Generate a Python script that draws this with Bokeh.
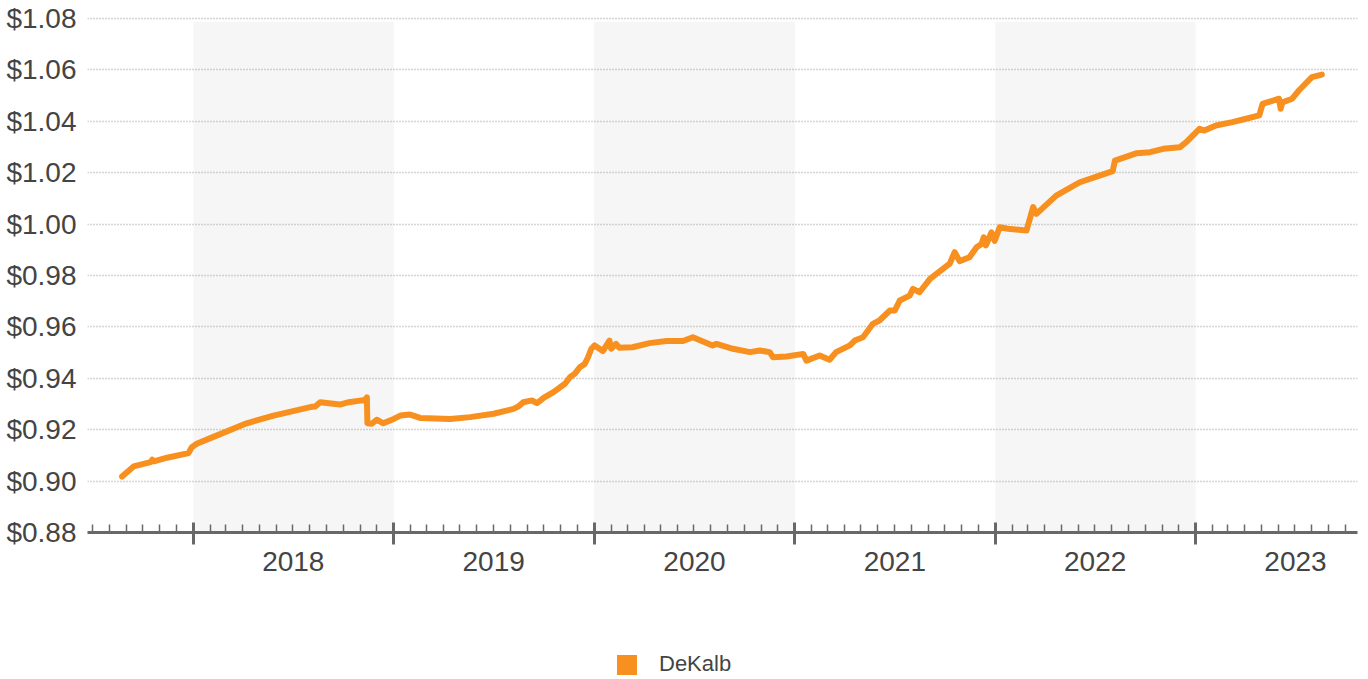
import pandas as pd
from bokeh.plotting import figure
from bokeh.layouts import column
from bokeh.models import (Range1d, FixedTicker, DatetimeAxis, CustomJSTickFormatter,
                          NumeralTickFormatter, Legend, LegendItem, ColumnDataSource)
from bokeh.embed import file_html
from bokeh.resources import INLINE

# ---- data ----
dates = [
    "2017-08-24", "2017-09-14", "2017-10-15", "2017-10-18", "2017-10-21", "2017-11-14",
    "2017-12-23", "2017-12-29", "2018-01-07", "2018-02-12", "2018-04-08", "2018-05-27",
    "2018-08-02", "2018-08-11", "2018-08-20", "2018-09-25", "2018-10-11", "2018-11-10",
    "2018-11-13", "2018-11-14", "2018-11-22", "2018-12-01", "2018-12-13", "2019-01-01",
    "2019-01-13", "2019-01-31", "2019-02-18", "2019-04-14", "2019-05-20", "2019-07-02",
    "2019-08-07", "2019-08-16", "2019-08-25", "2019-09-10", "2019-09-19", "2019-10-01",
    "2019-10-19", "2019-11-09", "2019-11-18", "2019-11-27", "2019-12-06", "2019-12-15",
    "2019-12-21", "2019-12-27", "2020-01-02", "2020-01-17", "2020-01-29", "2020-02-01",
    "2020-02-10", "2020-02-16", "2020-03-11", "2020-04-11", "2020-05-12", "2020-06-11",
    "2020-06-29", "2020-08-04", "2020-08-11", "2020-09-10", "2020-10-11", "2020-10-29",
    "2020-11-16", "2020-11-22", "2020-12-17", "2021-01-16", "2021-01-22", "2021-02-15",
    "2021-03-05", "2021-03-17", "2021-04-11", "2021-04-20", "2021-05-05", "2021-05-14",
    "2021-05-23", "2021-06-04", "2021-06-23", "2021-07-02", "2021-07-11", "2021-07-29",
    "2021-08-04", "2021-08-16", "2021-09-04", "2021-10-10", "2021-10-19", "2021-10-28",
    "2021-11-15", "2021-11-28", "2021-12-07", "2021-12-11", "2021-12-15", "2021-12-25",
    "2021-12-31", "2022-01-09", "2022-01-24", "2022-02-27", "2022-03-11", "2022-03-17",
    "2022-04-22", "2022-06-04", "2022-07-10", "2022-08-03", "2022-08-07", "2022-09-16",
    "2022-10-10", "2022-11-03", "2022-12-03", "2022-12-15", "2023-01-08", "2023-01-17",
    "2023-02-07", "2023-03-09", "2023-04-03", "2023-04-27", "2023-05-03", "2023-06-02",
    "2023-06-05", "2023-06-08", "2023-06-26", "2023-07-08", "2023-08-01", "2023-08-19",
]
values = [
    0.9018, 0.9057, 0.9074, 0.9083, 0.9077, 0.9091,
    0.9109, 0.9132, 0.9145, 0.9177, 0.9225, 0.9255,
    0.9288, 0.9290, 0.9307, 0.9298, 0.9307, 0.9316,
    0.9326, 0.9225, 0.9223, 0.9239, 0.9225, 0.9242,
    0.9255, 0.9259, 0.9246, 0.9242, 0.9249, 0.9262,
    0.9281, 0.9290, 0.9307, 0.9314, 0.9303, 0.9324,
    0.9346, 0.9379, 0.9404, 0.9418, 0.9443, 0.9456,
    0.9482, 0.9515, 0.9528, 0.9506, 0.9547, 0.9515,
    0.9534, 0.9519, 0.9521, 0.9537, 0.9545, 0.9545,
    0.9560, 0.9528, 0.9534, 0.9515, 0.9502, 0.9508,
    0.9502, 0.9482, 0.9485, 0.9495, 0.9469, 0.9489,
    0.9472, 0.9502, 0.9528, 0.9547, 0.9560, 0.9586,
    0.9612, 0.9625, 0.9664, 0.9664, 0.9703, 0.9722,
    0.9748, 0.9735, 0.9787, 0.9846, 0.9891, 0.9856,
    0.9871, 0.9910, 0.9923, 0.9949, 0.9917, 0.9968,
    0.9935, 0.9988, 0.9982, 0.9975, 1.0066, 1.0040,
    1.0111, 1.0163, 1.0189, 1.0206, 1.0247, 1.0276,
    1.0280, 1.0293, 1.0299, 1.0319, 1.0371, 1.0364,
    1.0384, 1.0397, 1.0410, 1.0423, 1.0468, 1.0488,
    1.0449, 1.0474, 1.0488, 1.0520, 1.0572, 1.0582,
]
series_name = "DeKalb"
years = [2018, 2019, 2020, 2021, 2022, 2023]
shaded_years = [2018, 2020, 2022]
y_ticks = [0.88, 0.90, 0.92, 0.94, 0.96, 0.98, 1.00, 1.02, 1.04, 1.06, 1.08]
x_start, x_end = "2017-06-22", "2023-10-23"

ORANGE = "#F7901E"
TEXT = "#444444"
AXIS = "#686868"
FONT = "Liberation Sans"


def ms(s):
    return pd.Timestamp(s).value // 10**6


x_dt = pd.to_datetime(dates)

p = figure(width=1368, height=608, output_backend="svg", toolbar_location=None,
           x_axis_type=None, x_range=Range1d(ms(x_start), ms(x_end)),
           y_range=Range1d(0.88, 1.0808),
           min_border_left=87, min_border_right=11, min_border_top=16, min_border_bottom=76)
p.outline_line_color = None
p.background_fill_color = "white"
p.border_fill_color = "white"

# alternating year bands
band_src = ColumnDataSource(dict(
    left=[ms(f"{y}-01-01") for y in shaded_years],
    right=[ms(f"{y + 1}-01-01") for y in shaded_years],
))
p.quad(left="left", right="right", bottom=0.88, top=1.0788, source=band_src,
       fill_color="#F6F6F6", line_color=None, level="image")

# y axis & grid
p.yaxis.ticker = FixedTicker(ticks=y_ticks)
p.yaxis.formatter = NumeralTickFormatter(format="$0.00")
p.yaxis.axis_line_color = None
p.yaxis.major_tick_line_color = None
p.yaxis.minor_tick_line_color = None
p.yaxis.major_label_standoff = 5
p.yaxis.major_label_text_font = FONT
p.yaxis.major_label_text_font_size = "28px"
p.yaxis.major_label_text_color = TEXT
p.ygrid.ticker = FixedTicker(ticks=y_ticks)
p.ygrid.grid_line_color = "#AAAAAA"
p.ygrid.grid_line_dash = "1 2"
p.ygrid.grid_line_width = 1.5

# x axis: ticks at year boundaries, monthly minor ticks
month_ticks = [ms(d) for d in pd.date_range("2017-07-01", "2023-10-01", freq="MS")]
ax1 = DatetimeAxis(
    ticker=FixedTicker(ticks=[ms(f"{y}-01-01") for y in years], minor_ticks=month_ticks),
    formatter=CustomJSTickFormatter(code="return ''"),
    major_label_text_font_size="0px", major_label_standoff=0,
    axis_line_color=AXIS, axis_line_width=3,
    major_tick_line_color=AXIS, major_tick_line_width=3, major_tick_in=10, major_tick_out=12,
    minor_tick_line_color=AXIS, minor_tick_line_width=1.5, minor_tick_in=8, minor_tick_out=0,
)
p.add_layout(ax1, "below")

# x axis: year labels in the middle of each year
ax2 = DatetimeAxis(
    ticker=FixedTicker(ticks=[ms(f"{y}-07-02") for y in years]),
    formatter=CustomJSTickFormatter(code="return String(new Date(tick).getUTCFullYear())"),
    axis_line_color=None, major_tick_line_color=None, minor_tick_line_color=None,
    major_tick_in=0, major_tick_out=0,
    major_label_standoff=7, major_label_text_font=FONT,
    major_label_text_font_size="28px", major_label_text_color=TEXT,
)
p.add_layout(ax2, "below")

# series
src = ColumnDataSource(dict(x=x_dt, y=values))
p.line("x", "y", source=src, line_color=ORANGE, line_width=6,
       line_join="round", line_cap="round")

# legend in its own strip below the chart
lg = figure(width=1368, height=71, output_backend="svg", toolbar_location=None,
            x_axis_type=None, y_axis_type=None, x_range=Range1d(0, 1), y_range=Range1d(0, 1),
            min_border=0)
lg.outline_line_color = None
lg.xgrid.visible = False
lg.ygrid.visible = False
# zero-size proxy so the legend can show a filled square swatch
sw = lg.quad(left=[0], right=[0], top=[0], bottom=[0], fill_color=ORANGE, line_color=None)
legend = Legend(items=[LegendItem(label=series_name, renderers=[sw])],
                location=(527, 2), orientation="horizontal",
                glyph_width=25, glyph_height=25, label_standoff=20, padding=0, margin=0,
                border_line_color=None, background_fill_alpha=0,
                label_text_font=FONT, label_text_font_size="22px",
                label_text_color=TEXT)
lg.add_layout(legend, "center")

open("out.html", "w").write(file_html(column(p, lg, spacing=0), INLINE))
